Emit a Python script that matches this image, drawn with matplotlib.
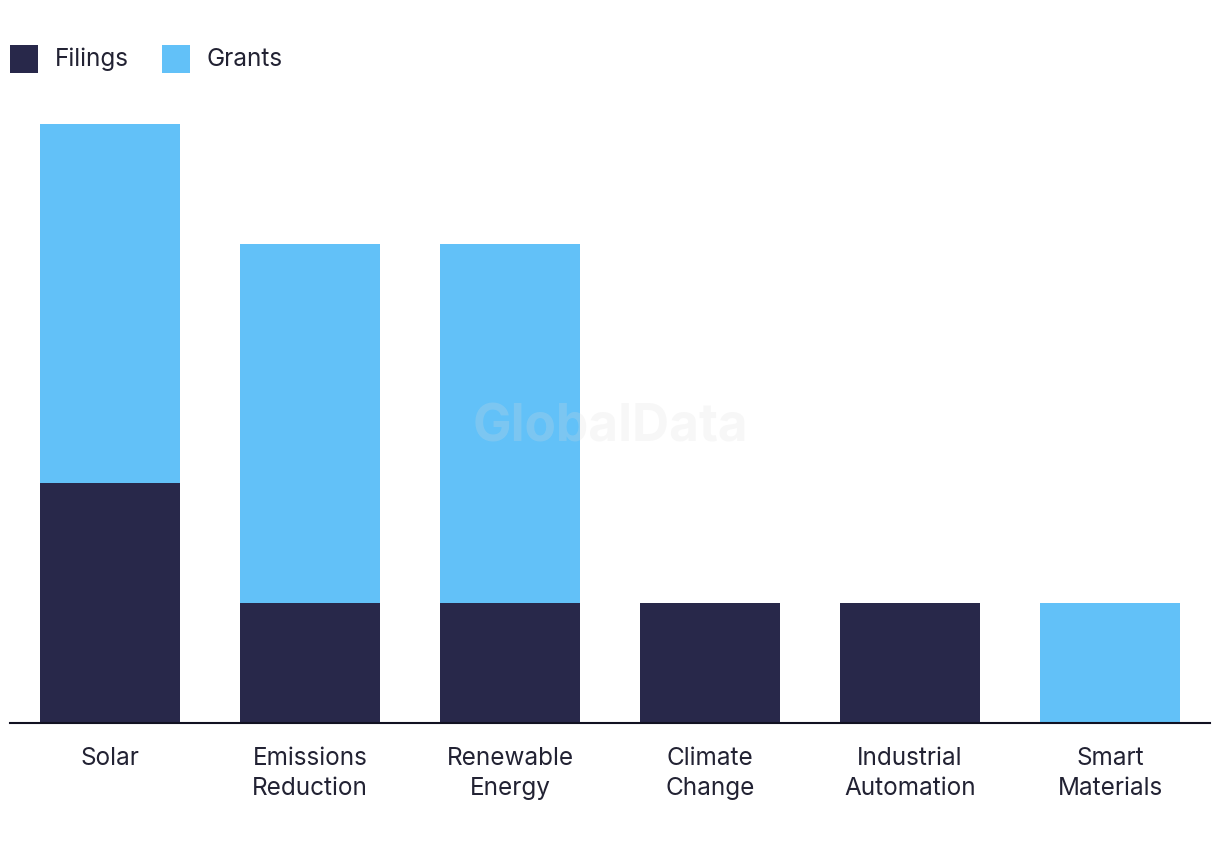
import matplotlib
import matplotlib.pyplot as plt
import numpy as np
from matplotlib.patches import Rectangle

matplotlib.use("Agg")

categories = ["Solar", "Emissions\nReduction", "Renewable\nEnergy", "Climate\nChange",
              "Industrial\nAutomation", "Smart\nMaterials"]
filings = [2, 1, 1, 1, 1, 0]
grants = [3, 3, 3, 0, 0, 1]
series = ["Filings", "Grants"]

NAVY = "#28284a"
BLUE = "#62c1f8"
TEXT = "#222233"

plt.rcParams["font.family"] = ["Inter", "DejaVu Sans"]

W, H = 1220, 850
fig = plt.figure(figsize=(W / 100, H / 100), dpi=100)
ax = fig.add_axes([10 / W, (H - 723) / H, 1200 / W, 599 / H])

x = np.arange(len(categories))
ax.bar(x, filings, width=0.7, color=NAVY, linewidth=0)
ax.bar(x, grants, width=0.7, bottom=filings, color=BLUE, linewidth=0)

ax.set_xlim(-0.5, len(categories) - 0.5)
ax.set_ylim(0, 5)
ax.set_xticks(x)
ax.set_xticklabels(categories, fontsize=17.5, color=TEXT, linespacing=1.4)
ax.tick_params(axis="x", length=0, pad=17)
ax.set_yticks([])
for side in ["top", "right", "left"]:
    ax.spines[side].set_visible(False)
ax.spines["bottom"].set_color("#111122")
ax.spines["bottom"].set_linewidth(1.5)

# faint watermark on top of the bars
fig.text(610 / W, 1 - 428 / H, "GlobalData", fontsize=37, fontweight="bold",
         color="#dcdcdc", alpha=0.22, ha="center", va="center", zorder=5)

# legend, drawn by hand
for i, (name, color) in enumerate(zip(series, [NAVY, BLUE])):
    x0 = 10 + i * 152
    fig.patches.append(Rectangle((x0 / W, 1 - 73 / H), 28 / W, 28 / H,
                                 transform=fig.transFigure, color=color, linewidth=0))
    fig.text((x0 + 45) / W, 1 - 59 / H, name, fontsize=17.5, color=TEXT,
             ha="left", va="center")

fig.savefig("out.png", dpi=100)
